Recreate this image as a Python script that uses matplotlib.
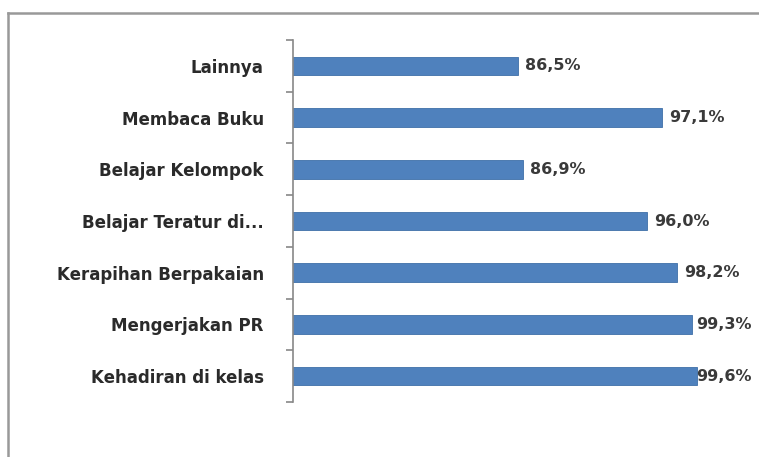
import matplotlib.pyplot as plt
from matplotlib.lines import Line2D

categories = ["Kehadiran di kelas", "Mengerjakan PR", "Kerapihan Berpakaian",
              "Belajar Teratur di...", "Belajar Kelompok", "Membaca Buku", "Lainnya"]
values = [99.6, 99.3, 98.2, 96.0, 86.9, 97.1, 86.5]

plt.rcParams["font.family"] = ["DejaVu Sans"]

fig = plt.figure(figsize=(7.59, 4.57), dpi=100)
ax = fig.add_axes([293 / 759, 1 - 402 / 457, (702 - 293) / 759, (402 - 40) / 457])

ypos = range(len(categories))
ax.barh(ypos, values, height=0.36, left=0, color="#4f81bd", edgecolor="#3f6fa8", linewidth=0.6)
ax.set_xlim(70, 100)
ax.set_ylim(-0.5, len(categories) - 0.5)

for y, v in zip(ypos, values):
    ax.text(min(v + 0.5, 99.55), y, f"{v:.1f}%".replace(".", ","), va="center", ha="left",
            fontsize=11.5, fontweight="bold", color="#3a3a3a", clip_on=False)

ax.set_yticks(list(ypos))
ax.set_yticklabels(categories)
for lab in ax.get_yticklabels():
    lab.set_fontsize(12)
    lab.set_fontweight("bold")
    lab.set_color("#2a2a2a")
ax.set_yticks([y + 0.5 for y in range(-1, len(categories))], minor=True)
ax.tick_params(axis="y", which="major", length=0, pad=21)
ax.tick_params(axis="y", which="minor", length=5, color="#888888", width=1.2)
ax.set_xticks([])
for s in ["top", "right", "bottom"]:
    ax.spines[s].set_visible(False)
ax.spines["left"].set_color("#888888")
ax.spines["left"].set_linewidth(1.2)

# outer chart frame (only top and left edges visible in crop)
fig.add_artist(Line2D([8 / 759, 8 / 759], [0, 1 - 13 / 457], color="#999999", lw=1.8))
fig.add_artist(Line2D([8 / 759, 1], [1 - 13 / 457, 1 - 13 / 457], color="#999999", lw=1.8))

fig.savefig("out.png", dpi=100)
